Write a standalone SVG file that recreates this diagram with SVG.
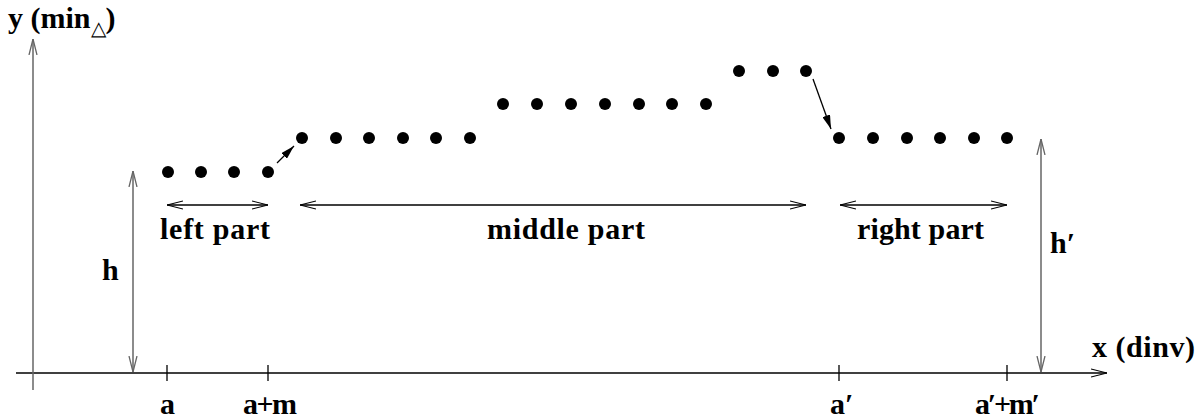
<svg xmlns="http://www.w3.org/2000/svg" width="1203" height="420" viewBox="0 0 1203 420">
<style>
text{font-family:"Liberation Serif","Times New Roman",serif;font-weight:bold;font-size:30px;fill:#000}
.ax{stroke:#000;stroke-width:1.3;fill:none}
.gr{stroke:#666;stroke-width:1.5;fill:none}
.dot{fill:#000}
.sub{font-size:20px;font-weight:normal}
</style>
<defs>
<marker id="open" viewBox="0 0 16 10" refX="16" refY="5" markerWidth="16" markerHeight="10" markerUnits="userSpaceOnUse" orient="auto-start-reverse">
<path d="M0,1 L16,5 L0,9" fill="none" stroke="#000" stroke-width="1.2"/>
</marker>
<marker id="openg" viewBox="0 0 16 10" refX="16" refY="5" markerWidth="16" markerHeight="10" markerUnits="userSpaceOnUse" orient="auto-start-reverse">
<path d="M0,1 L16,5 L0,9" fill="none" stroke="#666" stroke-width="1.3"/>
</marker>
<marker id="fill" viewBox="0 0 14 8" refX="14" refY="4" markerWidth="14" markerHeight="8" markerUnits="userSpaceOnUse" orient="auto">
<path d="M0,0 L14,4 L0,8 Z" fill="#000"/>
</marker>
</defs>
<g id="axes">
<line class="ax" x1="16" y1="373" x2="1107" y2="373" marker-end="url(#open)"/>
<line class="gr" x1="33" y1="390" x2="33" y2="39" marker-end="url(#openg)"/>
<line class="ax" x1="167" y1="365" x2="167" y2="381"/>
<line class="ax" x1="268" y1="365" x2="268" y2="381"/>
<line class="ax" x1="839" y1="365" x2="839" y2="381"/>
<line class="ax" x1="1007" y1="365" x2="1007" y2="381"/>
<text x="8" y="28">y (min<tspan class="sub" dy="7">△</tspan><tspan dy="-7">)</tspan></text>
<text x="1092" y="357" textLength="103">x (dinv)</text>
<text x="160" y="414">a</text>
<text x="243" y="414" textLength="54">a+m</text>
<text x="830" y="414">a′</text>
<text x="975" y="414" textLength="65">a′+m′</text>
</g>
<g id="heights">
<line class="gr" x1="133" y1="372" x2="133" y2="171" marker-start="url(#openg)" marker-end="url(#openg)"/>
<text x="102" y="280">h</text>
<line class="gr" x1="1041" y1="372" x2="1041" y2="139" marker-start="url(#openg)" marker-end="url(#openg)"/>
<text x="1050" y="253">h′</text>
</g>
<g id="dots">
<circle class="dot" cx="168" cy="172" r="6"/><circle class="dot" cx="201" cy="172" r="6"/><circle class="dot" cx="234" cy="172" r="6"/><circle class="dot" cx="268" cy="172" r="6"/>
<circle class="dot" cx="302" cy="138" r="6"/><circle class="dot" cx="336" cy="138" r="6"/><circle class="dot" cx="369" cy="138" r="6"/><circle class="dot" cx="403" cy="138" r="6"/><circle class="dot" cx="436" cy="138" r="6"/><circle class="dot" cx="470" cy="138" r="6"/>
<circle class="dot" cx="503" cy="104" r="6"/><circle class="dot" cx="537" cy="104" r="6"/><circle class="dot" cx="571" cy="104" r="6"/><circle class="dot" cx="605" cy="104" r="6"/><circle class="dot" cx="639" cy="104" r="6"/><circle class="dot" cx="672" cy="104" r="6"/><circle class="dot" cx="706" cy="104" r="6"/>
<circle class="dot" cx="739" cy="71" r="6"/><circle class="dot" cx="773" cy="71" r="6"/><circle class="dot" cx="806" cy="71" r="6"/>
<circle class="dot" cx="839" cy="138" r="6"/><circle class="dot" cx="873" cy="138" r="6"/><circle class="dot" cx="907" cy="138" r="6"/><circle class="dot" cx="940" cy="138" r="6"/><circle class="dot" cx="974" cy="138" r="6"/><circle class="dot" cx="1007" cy="138" r="6"/>
</g>
<g id="connectors">
<line class="ax" x1="277" y1="163" x2="294" y2="146" marker-end="url(#fill)"/>
<line class="ax" x1="813" y1="79" x2="831" y2="129" marker-end="url(#fill)"/>
</g>
<g id="parts">
<line class="ax" x1="167" y1="205" x2="268" y2="205" marker-start="url(#open)" marker-end="url(#open)"/>
<text x="160" y="239" textLength="110">left part</text>
<line class="ax" x1="300" y1="205" x2="806" y2="205" marker-start="url(#open)" marker-end="url(#open)"/>
<text x="487" y="239" textLength="158">middle part</text>
<line class="ax" x1="840" y1="205" x2="1007" y2="205" marker-start="url(#open)" marker-end="url(#open)"/>
<text x="857" y="239" textLength="127">right part</text>
</g>
</svg>
